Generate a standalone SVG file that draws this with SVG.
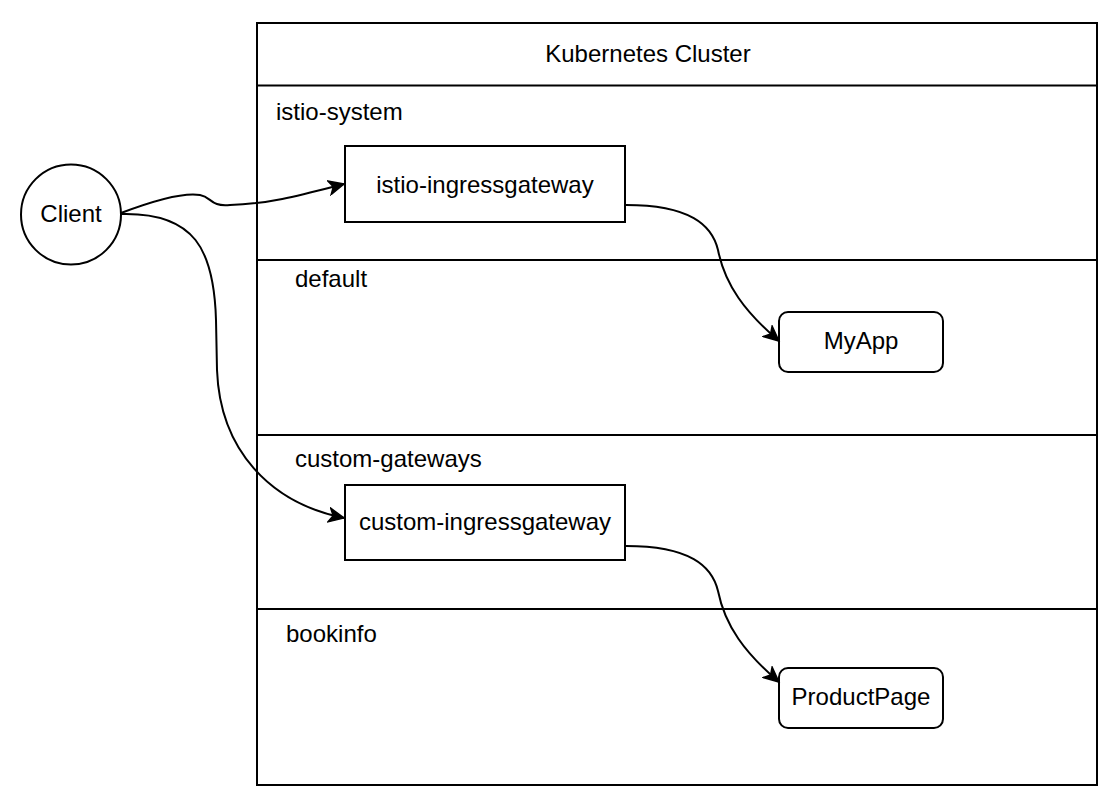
<svg xmlns="http://www.w3.org/2000/svg" width="1118" height="806" viewBox="0 0 1118 806">
<style>
.box{fill:#fff;stroke:#000;stroke-width:2}
.ln{fill:none;stroke:#000;stroke-width:2}
.t{font-family:"Liberation Sans",Arial,Helvetica,sans-serif;font-size:24px;fill:#000}
.c{text-anchor:middle}
.e{fill:none;stroke:#000;stroke-width:2;marker-end:url(#arr)}
</style>
<defs>
<marker id="arr" markerUnits="userSpaceOnUse" markerWidth="18" markerHeight="16" refX="16" refY="8" orient="auto" viewBox="0 0 18 16">
<path d="M1,1 L16,8 L1,15 L5,8 Z" fill="#000" stroke="#000" stroke-width="1.5" stroke-linejoin="miter"/>
</marker>
</defs>
<rect width="1118" height="806" fill="#fff"/>
<g id="cluster">
<rect class="box" x="257" y="23" width="840" height="762"/>
<line class="ln" x1="257" y1="85.5" x2="1097" y2="85.5"/>
<text class="t c" x="648" y="62">Kubernetes Cluster</text>
</g>
<g id="istio-system">
<text class="t" x="276" y="120">istio-system</text>
</g>
<g id="default">
<line class="ln" x1="257" y1="260" x2="1097" y2="260"/>
<text class="t" x="295" y="287">default</text>
</g>
<g id="custom-gateways">
<line class="ln" x1="257" y1="435" x2="1097" y2="435"/>
<text class="t" x="295" y="467">custom-gateways</text>
</g>
<g id="bookinfo">
<line class="ln" x1="257" y1="609" x2="1097" y2="609"/>
<text class="t" x="286" y="642">bookinfo</text>
</g>
<g id="client">
<circle class="box" cx="71" cy="214.5" r="50"/>
<text class="t c" x="71" y="222">Client</text>
</g>
<g id="istio-ingressgateway">
<rect class="box" x="345" y="146" width="280" height="76"/>
<text class="t c" x="485" y="193">istio-ingressgateway</text>
</g>
<g id="myapp">
<rect class="box" x="779" y="312" width="164" height="60" rx="9"/>
<text class="t c" x="861" y="349">MyApp</text>
</g>
<g id="custom-ingressgateway">
<rect class="box" x="345" y="485" width="280" height="75"/>
<text class="t c" x="485" y="530">custom-ingressgateway</text>
</g>
<g id="productpage">
<rect class="box" x="779" y="668" width="164" height="60" rx="9"/>
<text class="t c" x="861" y="705">ProductPage</text>
</g>
<g id="connectors">
<path class="e" d="M121,213 C150,202 182,192 200,195 C212,197 210,207 230,205 C270,204 305,194 344,184"/>
<path class="e" d="M121,214 C195,212 214,250 216,320 L217,370 C220,450 270,503 344,518"/>
<path class="e" d="M626,205 C690,205 712,225 718,250 C725,285 745,312 779,341"/>
<path class="e" d="M626,546 C690,546 712,566 718,591 C725,626 745,653 779,682"/>
</g>
</svg>
